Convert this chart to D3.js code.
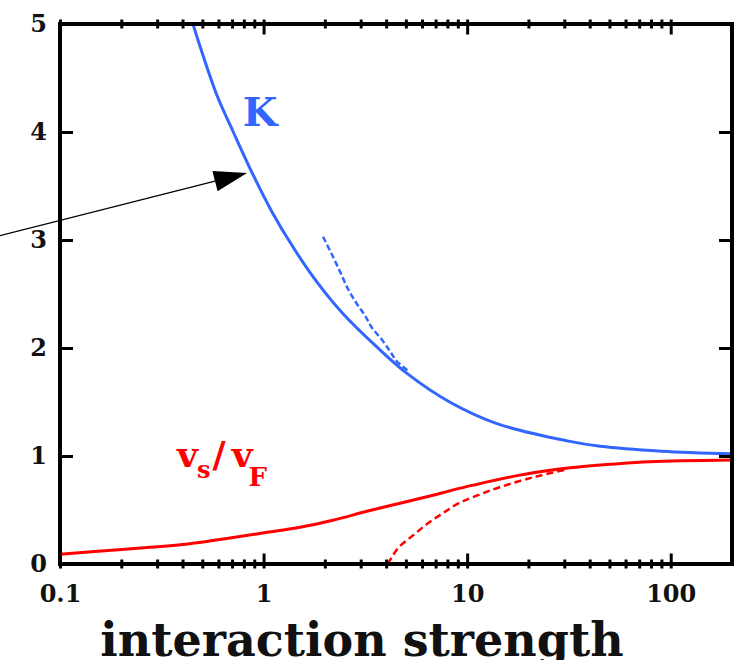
<!DOCTYPE html>
<html>
<head>
<meta charset="utf-8">
<script src="https://cdn.jsdelivr.net/npm/d3@7"></script>
<style>
  body { margin: 0; background: #fff; }
  svg { display: block; }
  .axis text { font-family: "DejaVu Serif", serif; font-weight: bold; font-size: 24px; fill: #111; }
  .axis line { stroke: #000; stroke-width: 3; }
</style>
</head>
<body>
<svg id="chart" width="738" height="660"></svg>
<script>
// interaction strength (x) and the curves
const kMainX  = [0.45, 0.49, 0.59, 0.71, 0.89, 1.1, 1.4, 1.83, 2.45, 3.6, 5.1, 8.2, 14, 31, 45, 90, 200];
const kMainY  = [5.0, 4.78, 4.34, 4.0, 3.6, 3.26, 2.93, 2.61, 2.32, 2.01, 1.76, 1.5, 1.3, 1.14, 1.09, 1.045, 1.02];
const kDashX  = [1.96, 2.16, 2.37, 2.61, 2.87, 3.15, 3.4, 3.8, 4.18, 4.5, 5.2];
const kDashY  = [3.03, 2.87, 2.71, 2.54, 2.41, 2.3, 2.19, 2.08, 1.97, 1.88, 1.78];
const vMainX  = [0.1, 0.148, 0.277, 0.4, 0.71, 1.04, 1.51, 2.19, 3.22, 4.68, 6.8, 8.2, 10.7, 18.2, 31.3, 53, 79, 200];
const vMainY  = [0.09, 0.115, 0.155, 0.18, 0.245, 0.293, 0.34, 0.405, 0.488, 0.563, 0.637, 0.677, 0.73, 0.823, 0.888, 0.926, 0.947, 0.963];
const vDashX  = [4.08, 4.57, 5.42, 6.42, 7.6, 9.1, 11.3, 14.6, 21.5, 30];
const vDashY  = [0.0, 0.145, 0.265, 0.377, 0.47, 0.563, 0.637, 0.714, 0.807, 0.87];

const xMajor = [0.1, 1, 10, 100];
const yTicks = [0, 1, 2, 3, 4, 5];
const xLabel = "interaction strength";

const blue = "#3366ff";
const red = "#ff0000";

const margin = {top: 24, right: 6, bottom: 96, left: 60};
const width = 738 - margin.left - margin.right;
const height = 660 - margin.top - margin.bottom;

const svg = d3.select("svg#chart");
const g = svg.append("g")
    .attr("transform", "translate(" + margin.left + "," + margin.top + ")");

const x = d3.scaleLog().domain([0.1, 200]).range([0, width]);
const y = d3.scaleLinear().domain([0, 5]).range([height, 0]);

const xMinor = x.ticks().filter(d => xMajor.indexOf(d) < 0 && d < 200);

g.append("clipPath").attr("id", "clip")
    .append("rect").attr("width", width).attr("height", height);

function zip(xs, ys) { return xs.map((d, i) => [d, ys[i]]); }

const line = d3.line()
    .x(d => x(d[0]))
    .y(d => y(d[1]))
    .curve(d3.curveCatmullRom.alpha(0.5));

const plot = g.append("g").attr("clip-path", "url(#clip)");

plot.append("path")
    .datum(zip(kDashX, kDashY))
    .attr("fill", "none")
    .attr("stroke", blue)
    .attr("stroke-width", 2.5)
    .attr("stroke-dasharray", "6,3")
    .attr("d", line);

plot.append("path")
    .datum(zip(kMainX, kMainY))
    .attr("fill", "none")
    .attr("stroke", blue)
    .attr("stroke-width", 3)
    .attr("d", line);

plot.append("path")
    .datum(zip(vDashX, vDashY))
    .attr("fill", "none")
    .attr("stroke", red)
    .attr("stroke-width", 2.5)
    .attr("stroke-dasharray", "7,4")
    .attr("d", line);

plot.append("path")
    .datum(zip(vMainX, vMainY))
    .attr("fill", "none")
    .attr("stroke", red)
    .attr("stroke-width", 3)
    .attr("d", line);

// bottom axis: minor ticks cross the frame, majors reach inward
g.append("g").attr("class", "axis")
    .attr("transform", "translate(0," + (height + 4.5) + ")")
    .call(d3.axisBottom(x).tickValues(xMinor).tickSize(-9).tickFormat(""))
    .select(".domain").remove();
g.append("g").attr("class", "axis")
    .attr("transform", "translate(0," + (height + 4.5) + ")")
    .call(d3.axisBottom(x).tickValues(xMajor).tickSize(-15).tickPadding(16).tickFormat(d => String(d)))
    .select(".domain").remove();

// top axis mirror
g.append("g").attr("class", "axis")
    .attr("transform", "translate(0,-4.5)")
    .call(d3.axisTop(x).tickValues(xMinor).tickSize(-9).tickFormat(""))
    .select(".domain").remove();
g.append("g").attr("class", "axis")
    .attr("transform", "translate(0,-4.5)")
    .call(d3.axisTop(x).tickValues(xMajor).tickSize(-15).tickFormat(""))
    .select(".domain").remove();

// left / right axes
g.append("g").attr("class", "axis")
    .call(d3.axisLeft(y).tickValues(yTicks).tickSize(-13).tickPadding(13).tickFormat(d3.format("d")))
    .select(".domain").remove();
g.append("g").attr("class", "axis")
    .attr("transform", "translate(" + width + ",0)")
    .call(d3.axisRight(y).tickValues(yTicks).tickSize(-13).tickFormat(""))
    .select(".domain").remove();

g.append("rect")
    .attr("width", width)
    .attr("height", height)
    .attr("fill", "none")
    .attr("stroke", "#000")
    .attr("stroke-width", 4);

// curve labels
g.append("text")
    .attr("x", x(0.79))
    .attr("y", y(4.06))
    .style("font-family", "DejaVu Serif, serif")
    .style("font-weight", "bold")
    .style("font-size", "40px")
    .style("fill", blue)
    .text("K");

const vLab = g.append("text")
    .attr("x", x(0.376))
    .attr("y", y(0.9))
    .style("font-family", "DejaVu Serif, serif")
    .style("font-weight", "bold")
    .style("font-size", "36px")
    .style("fill", red);
vLab.append("tspan").text("v");
vLab.append("tspan").attr("dy", 11).attr("dx", -1).style("font-size", "24px").text("s");
vLab.append("tspan").attr("dy", -11).attr("dx", 2).text("/");
vLab.append("tspan").attr("dx", 6).text("v");
vLab.append("tspan").attr("dy", 19).attr("dx", -4).style("font-size", "26px").text("F");

// arrow pointing at the K curve
const arrowFrom = [0.0507, 3.04];
const arrowTo = [0.829, 3.62];
const x0 = x(arrowFrom[0]), y0 = y(arrowFrom[1]);
const x1 = x(arrowTo[0]), y1 = y(arrowTo[1]);
const ang = Math.atan2(y1 - y0, x1 - x0);
const headLen = 33, headW = 10.5;
const bx = x1 - headLen * Math.cos(ang), by = y1 - headLen * Math.sin(ang);

g.append("line")
    .attr("x1", x0).attr("y1", y0)
    .attr("x2", bx).attr("y2", by)
    .attr("stroke", "#000")
    .attr("stroke-width", 1.2);

g.append("path")
    .attr("d", d3.line()([
        [x1, y1],
        [bx + headW * Math.sin(ang), by - headW * Math.cos(ang)],
        [bx - headW * Math.sin(ang), by + headW * Math.cos(ang)]
    ]) + "Z")
    .attr("fill", "#000");

// axis title (bottom of the glyphs runs off the page, as in the original)
svg.append("text")
    .attr("x", 362)
    .attr("y", 656)
    .attr("text-anchor", "middle")
    .style("font-family", "DejaVu Serif, serif")
    .style("font-weight", "bold")
    .style("font-size", "46px")
    .style("fill", "#111")
    .text(xLabel);
</script>
</body>
</html>
